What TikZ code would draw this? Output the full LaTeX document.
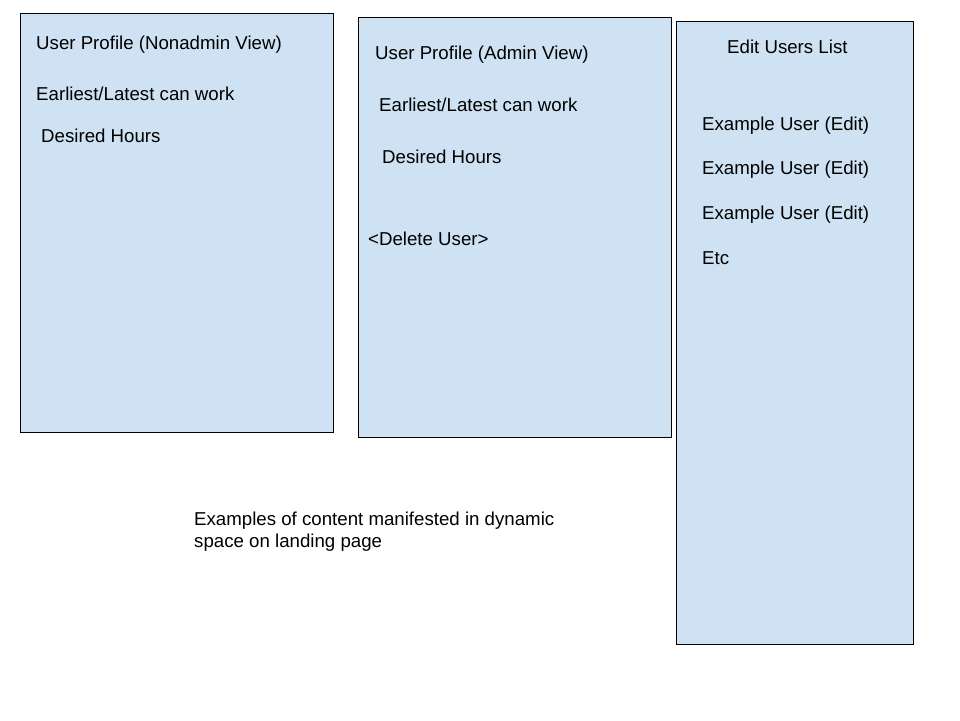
\documentclass[tikz,border=0pt]{standalone}
\usepackage{fontspec}
\setmainfont{Liberation Sans}
\definecolor{boxfill}{HTML}{CFE2F3}
\begin{document}
\begin{tikzpicture}[x=1pt,y=-1pt,
  panel/.style={draw=black,fill=boxfill,line width=1pt},
  lbl/.style={anchor=base west,inner sep=0pt,font=\fontsize{18.67}{22}\selectfont}]
\useasboundingbox (0,0) rectangle (960,720);
\fill[white] (0,0) rectangle (960,720);
\draw[panel] (20,13) rectangle (333,432);
\draw[panel] (358,17) rectangle (671,437);
\draw[panel] (676,21) rectangle (913,644);
\node[lbl] (t1) at (36,49.5) {User Profile (Nonadmin View)};
\node[lbl] (t2) at (36,100.5) {Earliest/Latest can work};
\node[lbl] (t3) at (41,142.5) {Desired Hours};
\node[lbl] (a1) at (375,59.5) {User Profile (Admin View)};
\node[lbl] (a2) at (379,111.5) {Earliest/Latest can work};
\node[lbl] (a3) at (382,163.5) {Desired Hours};
\node[lbl] (a4) at (368,245.5) {<Delete User>};
\node[lbl] (e0) at (727,53.5) {Edit Users List};
\node[lbl] (e1) at (702,130.5) {Example User (Edit)};
\node[lbl] (e2) at (702,174.5) {Example User (Edit)};
\node[lbl] (e3) at (702,219.5) {Example User (Edit)};
\node[lbl] (e4) at (702,264.5) {Etc};
\node[lbl,align=left] (n1) at (194,547.5) {Examples of content manifested in dynamic\\space on landing page};
\end{tikzpicture}
\end{document}
